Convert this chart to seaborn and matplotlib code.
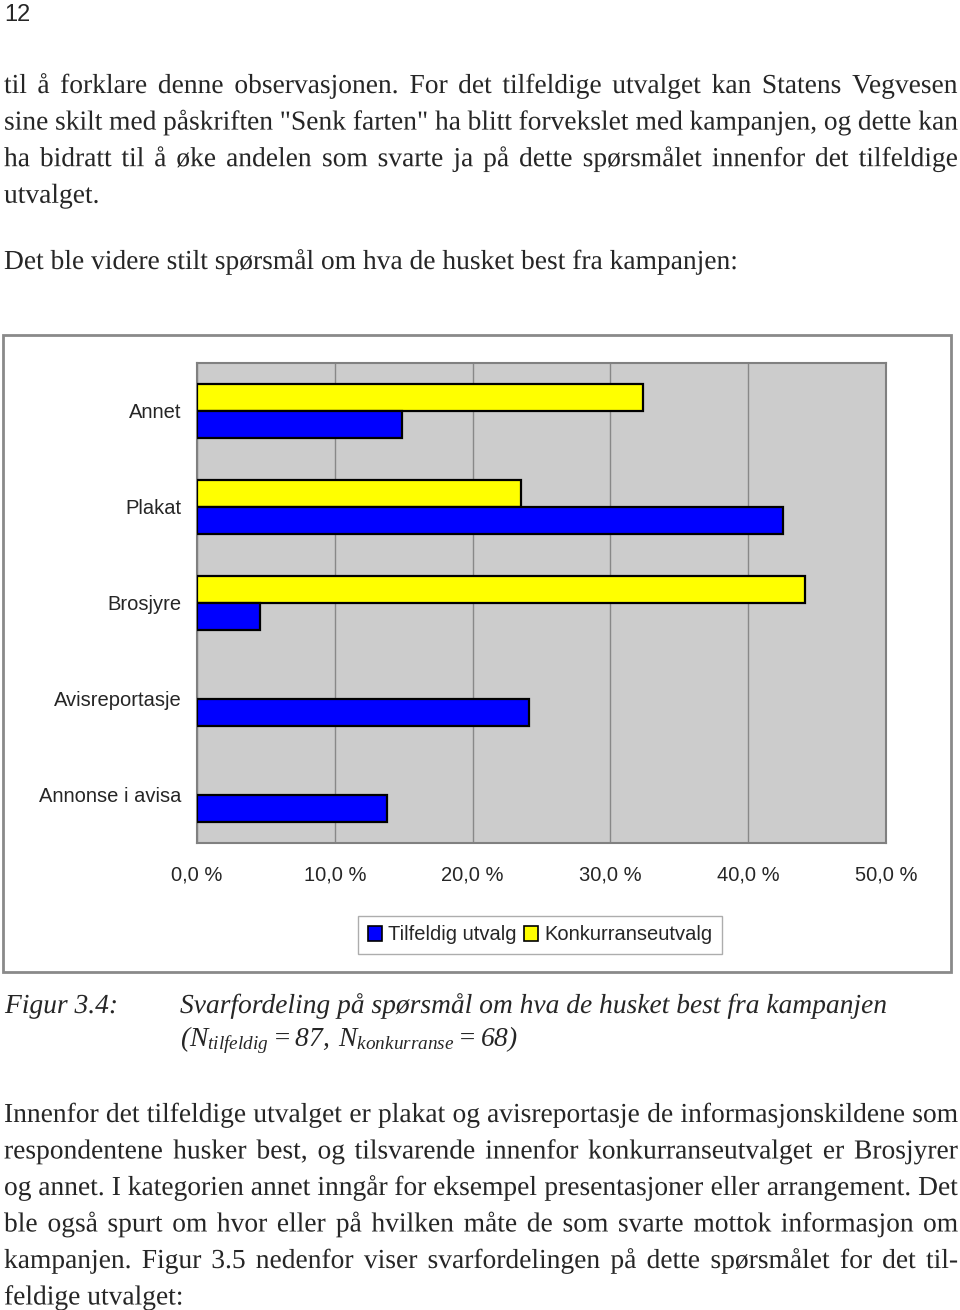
import numpy as np
import pandas as pd
import seaborn as sns
import matplotlib.pyplot as plt
import matplotlib.patheffects as pe
from matplotlib.patches import Rectangle

categories = ["Annet", "Plakat", "Brosjyre", "Avisreportasje", "Annonse i avisa"]
tilfeldig = [14.9, 42.5, 4.6, 24.1, 13.8]
konkurranse = [32.4, 23.5, 44.1, 0.0, 0.0]
series = ["Tilfeldig utvalg", "Konkurranseutvalg"]
xticks = [0, 10, 20, 30, 40, 50]
xtick_labels = ["0,0 %", "10,0 %", "20,0 %", "30,0 %", "40,0 %", "50,0 %"]

para1 = [
    "til å forklare denne observasjonen. For det tilfeldige utvalget kan Statens Vegvesen",
    "sine skilt med påskriften \"Senk farten\" ha blitt forvekslet med kampanjen, og dette kan",
    "ha bidratt til å øke andelen som svarte ja på dette spørsmålet innenfor det tilfeldige",
    "utvalget.",
]
para2 = ["Det ble videre stilt spørsmål om hva de husket best fra kampanjen:"]
para3 = [
    "Innenfor det tilfeldige utvalget er plakat og avisreportasje de informasjonskildene som",
    "respondentene husker best, og tilsvarende innenfor konkurranseutvalget er Brosjyrer",
    "og annet. I kategorien annet inngår for eksempel presentasjoner eller arrangement. Det",
    "ble også spurt om hvor eller på hvilken måte de som svarte mottok informasjon om",
    "kampanjen. Figur 3.5 nedenfor viser svarfordelingen på dette spørsmålet for det til-",
    "feldige utvalget:",
]

df = pd.DataFrame({
    "kategori": categories * 2,
    "utvalg": [series[0]] * 5 + [series[1]] * 5,
    "andel": tilfeldig + konkurranse,
})

W, H = 960, 1310
sns.set_style("white")
plt.rcParams["font.family"] = ["Liberation Sans", "DejaVu Sans"]
fig = plt.figure(figsize=(W / 100, H / 100), dpi=100)

# chart frame
fig.add_artist(Rectangle((3 / W, 1 - 972 / H), 948 / W, 637 / H, transform=fig.transFigure,
                         fill=False, edgecolor="#8a8a8a", linewidth=2))

ax = fig.add_axes([197 / W, 1 - 843 / H, 689 / W, 480 / H])
colors = {"Tilfeldig utvalg": "#0000ff", "Konkurranseutvalg": "#ffff00"}
sns.barplot(data=df, x="andel", y="kategori", hue="utvalg", order=categories,
            hue_order=["Konkurranseutvalg", "Tilfeldig utvalg"], palette=colors,
            width=0.56, edgecolor="black", linewidth=1.6, saturation=1,
            errorbar=None, legend=False, ax=ax, zorder=3)
for p in ax.patches:
    if p.get_width() == 0:
        p.set_visible(False)

ax.set_facecolor("#cccccc")
ax.set_xlim(0, 50)
ax.set_ylim(4.5, -0.5)
ax.set_xticks(xticks)
ax.set_xticklabels(xtick_labels, fontsize=14.5)
ax.set_yticks(range(5))
ax.set_yticklabels(categories, fontsize=14.5)
ax.set_yticks(np.arange(-0.5, 5, 1), minor=True)
ax.tick_params(axis="y", which="major", length=0, pad=11)
ax.tick_params(axis="y", which="minor", length=7, color="#777777", direction="out")
ax.tick_params(axis="x", length=7, color="#777777", direction="out", pad=9)
ax.grid(axis="x", color="#888888", linewidth=1, zorder=1)
ax.set_axisbelow(True)
ax.set_xlabel("")
ax.set_ylabel("")
for side, sp in ax.spines.items():
    sp.set_visible(True)
    sp.set_color("#808080")
    sp.set_linewidth(1.5)

handles = [Rectangle((0, 0), 1, 1, facecolor=colors[s], edgecolor="black", linewidth=1.2)
           for s in series]
fig.legend(handles, series, loc="center", bbox_to_anchor=(540 / W, 1 - 935 / H), ncol=2,
           fontsize=14.5, frameon=True, fancybox=False, edgecolor="#999999",
           handlelength=0.7, handleheight=0.7, handletextpad=0.3, columnspacing=0.4,
           borderpad=0.45)

# page text (drawn as paths so every word sits on the same baseline)
serif = ["Liberation Serif", "DejaVu Serif"]
fs = 19.8
asp = [pe.Normal()]
renderer = fig.canvas.get_renderer()


def put_line(line, y, justify, left=4, right=958):
    if not justify:
        fig.text(left / W, 1 - y / H, line, fontsize=fs, family=serif, va="baseline",
                 path_effects=asp)
        return
    words = line.split(" ")
    texts = [fig.text(0, 1 - y / H, w, fontsize=fs, family=serif, va="baseline",
                      path_effects=asp) for w in words]
    widths = [t.get_window_extent(renderer).width for t in texts]
    gap = (right - left - sum(widths)) / (len(words) - 1)
    x = left
    for t, w in zip(texts, widths):
        t.set_x(x / W)
        x += w + gap


fig.text(4 / W, 1 - 21 / H, "12", fontsize=17, va="baseline")

for i, line in enumerate(para1):
    put_line(line, 93 + i * 36.6, i < len(para1) - 1)
put_line(para2[0], 269, False)
for i, line in enumerate(para3):
    put_line(line, 1122 + i * 36.5, i < len(para3) - 1)

plt.rcParams["mathtext.fontset"] = "custom"
plt.rcParams["mathtext.rm"] = "Liberation Serif:italic"
plt.rcParams["mathtext.it"] = "Liberation Serif:italic"
fig.text(5 / W, 1 - 1013 / H, "Figur 3.4:", fontsize=fs, family=serif, style="italic",
         va="baseline", path_effects=asp)
fig.text(180 / W, 1 - 1013 / H, "Svarfordeling på spørsmål om hva de husket best fra kampanjen",
         fontsize=fs, family=serif, style="italic", va="baseline", path_effects=asp)
fig.text(180 / W, 1 - 1046 / H,
         r"$(N_{tilfeldig}=87,\;N_{konkurranse}=68)$",
         fontsize=fs, va="baseline")

fig.savefig("out.png", dpi=100)
